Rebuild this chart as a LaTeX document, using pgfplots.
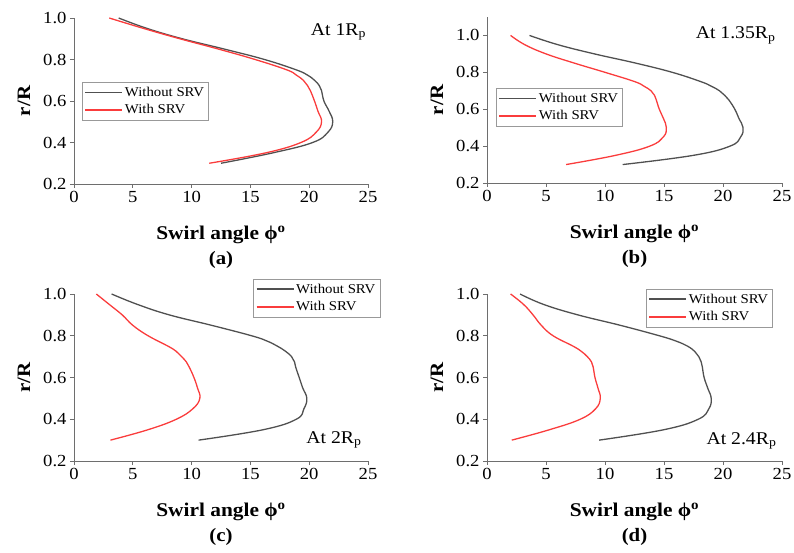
\documentclass[border=0pt]{standalone}
\usepackage{fontspec}
\setmainfont{Liberation Serif}[FakeStretch=1.1]
\usepackage{pgfplots}
\usepackage{pgfplotstable}
\pgfplotsset{compat=1.18}
\definecolor{wocol}{RGB}{80,80,80}
\definecolor{wicol}{RGB}{250,60,60}
\definecolor{axcol}{RGB}{110,110,110}

\pgfplotstableread{
r phi
1.00 3.8
0.95 6.2
0.90 9.2
0.85 12.8
0.80 16.2
0.75 18.9
0.725 19.85
0.70 20.45
0.675 20.85
0.65 21.05
0.60 21.25
0.55 21.7
0.50 22.0
0.45 21.6
0.40 20.3
0.35 16.9
0.30 12.5
}\aWo
\pgfplotstableread{
r phi
1.00 3.0
0.95 5.9
0.90 9.0
0.85 12.3
0.80 15.4
0.75 18.1
0.725 18.9
0.70 19.5
0.675 19.85
0.65 20.1
0.60 20.45
0.55 20.75
0.50 21.05
0.45 20.6
0.40 19.3
0.35 16.3
0.30 11.5
}\aWi
\pgfplotstableread{
r phi
1.00 3.6
0.95 6.0
0.90 9.1
0.85 12.6
0.80 15.7
0.75 18.1
0.725 19.0
0.70 19.7
0.675 20.15
0.65 20.5
0.60 21.0
0.55 21.35
0.50 21.7
0.45 21.5
0.40 20.6
0.35 17.5
0.30 11.5
}\bWo
\pgfplotstableread{
r phi
1.00 2.0
0.95 3.2
0.90 5.0
0.85 7.4
0.80 10.0
0.75 12.5
0.725 13.3
0.70 13.9
0.675 14.2
0.65 14.35
0.60 14.6
0.55 14.95
0.50 15.2
0.45 14.95
0.40 13.8
0.35 10.9
0.30 6.7
}\bWi
\pgfplotstableread{
r phi
1.00 3.2
0.95 5.4
0.90 8.1
0.85 11.7
0.80 15.1
0.775 16.4
0.75 17.3
0.725 18.0
0.70 18.5
0.675 18.75
0.65 18.85
0.60 19.15
0.55 19.45
0.50 19.8
0.45 19.55
0.40 18.9
0.35 16.1
0.30 10.6
}\cWo
\pgfplotstableread{
r phi
1.00 1.9
0.95 3.0
0.90 4.1
0.85 5.0
0.80 6.3
0.75 8.0
0.725 8.7
0.70 9.15
0.675 9.55
0.65 9.8
0.60 10.2
0.55 10.5
0.50 10.7
0.45 10.1
0.40 8.7
0.35 6.3
0.30 3.1
}\cWi
\pgfplotstableread{
r phi
1.00 2.8
0.95 4.8
0.90 7.7
0.85 11.3
0.80 14.6
0.775 16.0
0.75 17.0
0.725 17.6
0.70 17.95
0.675 18.15
0.65 18.25
0.60 18.4
0.55 18.7
0.50 19.0
0.45 18.8
0.40 17.9
0.35 15.0
0.30 9.5
}\dWo
\pgfplotstableread{
r phi
1.00 2.0
0.95 3.1
0.90 3.9
0.85 4.6
0.80 5.6
0.75 7.3
0.725 8.0
0.70 8.5
0.675 8.85
0.65 9.0
0.60 9.15
0.55 9.4
0.50 9.6
0.45 9.2
0.40 7.9
0.35 5.3
0.30 2.1
}\dWi

\pgfplotsset{
  legend image code/.code={\draw[#1] (0bp,0bp) -- (37bp,0bp);},
}
\pgfplotsset{
  swirl/.style={
    scale only axis,
    anchor=south west,
    xmin=0, xmax=25,
    ymin=0.2,
    xtick={0,5,10,15,20,25},
    ytick={0.2,0.4,0.6,0.8,1.0},
    axis x line*=bottom,
    axis y line*=left,
    axis line style={axcol, line width=0.8pt, -},
    tick style={axcol, line width=0.8pt},
    tick align=outside,
    major tick length=4bp,
    /pgf/number format/assume math mode=true,
    tick label style={font=\fontsize{17}{19}\selectfont, black},
    yticklabel style={/pgf/number format/fixed, /pgf/number format/fixed zerofill, /pgf/number format/precision=1},
    xticklabel style={/pgf/number format/fixed},
    legend style={draw=axcol!70, font=\fontsize{13.5}{15}\selectfont, inner sep=2.5bp, row sep=3bp, cells={anchor=west}},
    legend cell align=left,
    clip=false,
  },
}

\newcommand{\labels}[1]{%
  \node[font=\fontsize{19.5}{21}\selectfont\bfseries] at ([yshift=-51bp]rel axis cs:0.5,0) {Swirl angle ϕ\textsuperscript{o}};
  \node[font=\fontsize{19}{21}\selectfont\bfseries] at ([yshift=-76bp]rel axis cs:0.5,0) {(#1)};
  \node[font=\fontsize{19}{21}\selectfont\bfseries, rotate=90] at ([xshift=-50bp]rel axis cs:0,0.5) {r/R};
}

\begin{document}
\begin{tikzpicture}
\useasboundingbox (0,0) rectangle (794bp,553bp);

% (a)
\begin{axis}[swirl, at={(74bp,369bp)}, width=294bp, height=166bp, ymax=1.0,
  legend style={at={(rel axis cs:0.027,0.614)}, anchor=north west}]
\addplot[color=wocol, line width=1.3pt, smooth, tension=0.7] table[x=phi, y=r] {\aWo};
\addlegendentry{Without SRV}
\addplot[color=wicol, line width=1.3pt, smooth, tension=0.7] table[x=phi, y=r] {\aWi};
\addlegendentry{With SRV}
\node[anchor=east, font=\fontsize{18}{20}\selectfont] at (rel axis cs:1.005,0.915) {At 1R\textsubscript{p}};
\labels{a}
\end{axis}

% (b)
\begin{axis}[swirl, at={(487bp,370bp)}, width=295bp, height=166bp, ymax=1.1,
  legend style={at={(rel axis cs:0.03,0.572)}, anchor=north west}]
\addplot[color=wocol, line width=1.3pt, smooth, tension=0.7] table[x=phi, y=r] {\bWo};
\addlegendentry{Without SRV}
\addplot[color=wicol, line width=1.3pt, smooth, tension=0.7] table[x=phi, y=r] {\bWi};
\addlegendentry{With SRV}
\node[anchor=east, font=\fontsize{18}{20}\selectfont] at (rel axis cs:0.99,0.89) {At 1.35R\textsubscript{p}};
\labels{b}
\end{axis}

% (c)
\begin{axis}[swirl, at={(74bp,92bp)}, width=294bp, height=167bp, ymax=1.0,
  legend style={at={(rel axis cs:1.041,1.09)}, anchor=north east}]
\addplot[color=wocol, line width=1.3pt, smooth, tension=0.7] table[x=phi, y=r] {\cWo};
\addlegendentry{Without SRV}
\addplot[color=wicol, line width=1.3pt, smooth, tension=0.7] table[x=phi, y=r] {\cWi};
\addlegendentry{With SRV}
\node[anchor=east, font=\fontsize{18}{20}\selectfont] at (rel axis cs:0.99,0.126) {At 2R\textsubscript{p}};
\labels{c}
\end{axis}

% (d)
\begin{axis}[swirl, at={(487bp,92bp)}, width=295bp, height=167bp, ymax=1.0,
  legend style={at={(rel axis cs:0.969,1.03)}, anchor=north east}]
\addplot[color=wocol, line width=1.3pt, smooth, tension=0.7] table[x=phi, y=r] {\dWo};
\addlegendentry{Without SRV}
\addplot[color=wicol, line width=1.3pt, smooth, tension=0.7] table[x=phi, y=r] {\dWi};
\addlegendentry{With SRV}
\node[anchor=east, font=\fontsize{18}{20}\selectfont] at (rel axis cs:0.993,0.12) {At 2.4R\textsubscript{p}};
\labels{d}
\end{axis}
\end{tikzpicture}
\end{document}
